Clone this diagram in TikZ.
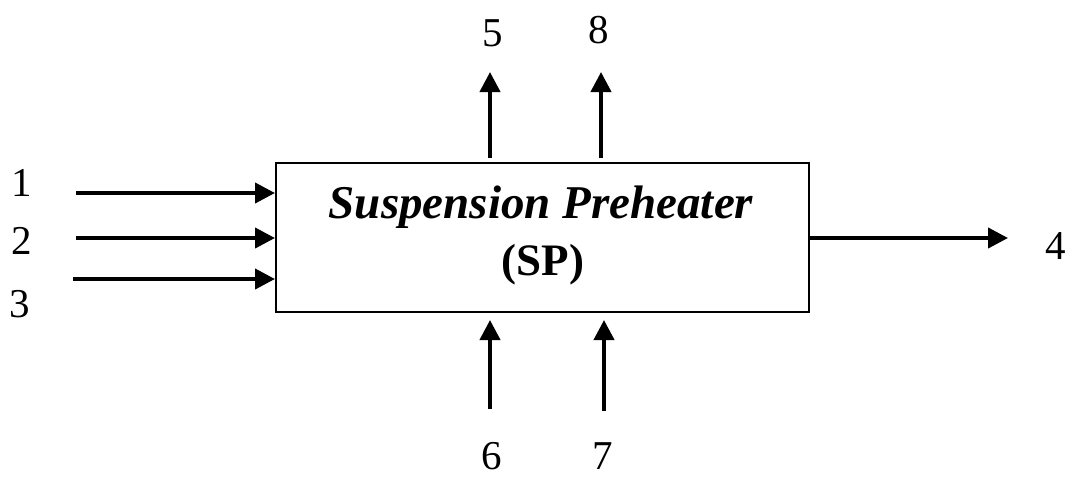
\documentclass[tikz,border=0pt]{standalone}
\usepackage{fontspec}
\setmainfont{Liberation Serif}
\usetikzlibrary{arrows.meta}
\begin{document}
\begin{tikzpicture}[x=0.5pt,y=-0.5pt,
  flow/.style={line width=2pt,-{Triangle[length=10pt,width=10pt]}},
  lbl/.style={font=\fontsize{20.5}{24}\selectfont,inner sep=0pt}]
\useasboundingbox (0,0) rectangle (1074,477);
% process block
\node[draw,line width=1pt,minimum width=266.5pt,minimum height=74.5pt,inner sep=0pt]
  (sp) at (542.5,237.5) {};
\node[font=\fontsize{23.5}{27}\selectfont\bfseries\itshape,inner sep=0pt] (t1) at (541,207) {Suspension Preheater};
\node[font=\fontsize{22.5}{27}\selectfont\bfseries,inner sep=0pt] (t2) at (543,265) {(SP)};
% inlet streams
\coordinate (i1) at (76,193);
\coordinate (i2) at (76,238);
\coordinate (i3) at (73,279);
\draw[flow] (i1) -- (i1 -| sp.west);
\draw[flow] (i2) -- (i2 -| sp.west);
\draw[flow] (i3) -- (i3 -| sp.west);
\node[lbl] (l1) at (22,183) {1};
\node[lbl] (l2) at (22,241) {2};
\node[lbl] (l3) at (20,304) {3};
% outlet stream
\coordinate (o4) at (1008,238);
\draw[flow] (o4 -| sp.east) -- (o4);
\node[lbl] (l4) at (1056,246) {4};
% top outlets
\coordinate (o5) at (490,72);
\coordinate (o8) at (601,72);
\draw[flow] ([yshift=2pt]o5 |- sp.north) -- (o5);
\draw[flow] ([yshift=2pt]o8 |- sp.north) -- (o8);
\node[lbl] (l5) at (493,33) {5};
\node[lbl] (l8) at (599,30) {8};
% bottom inlets
\coordinate (i6) at (490,409);
\coordinate (i7) at (604,411);
\coordinate (e6) at (490,320);
\coordinate (e7) at (604,320);
\draw[flow] (i6) -- (e6);
\draw[flow] (i7) -- (e7);
\node[lbl] (l6) at (492,456) {6};
\node[lbl] (l7) at (603,456) {7};
\end{tikzpicture}
\end{document}
